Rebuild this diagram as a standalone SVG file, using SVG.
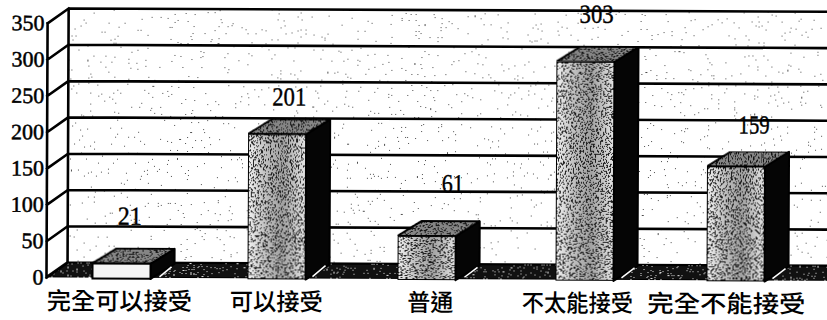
<svg xmlns="http://www.w3.org/2000/svg" width="827" height="320" viewBox="0 0 827 320">
<style>
 .grid{stroke:#000;stroke-width:2.6;fill:none}
 .axis{stroke:#000;stroke-width:2.6;fill:none;stroke-linecap:square}
 .tick{font-family:"Liberation Serif","Times New Roman",serif;font-size:22px;fill:#000;stroke:#000;stroke-width:0.5;text-anchor:end}
 .val{font-family:"Liberation Serif","Times New Roman",serif;font-size:26px;fill:#000;stroke:#000;stroke-width:0.4;text-anchor:middle}
 .cat{font-family:"Noto Sans CJK TC","Noto Sans CJK SC",sans-serif;font-size:24px;font-weight:500;fill:#000;text-anchor:middle}
 .front{fill:url(#gFront);stroke:#000;stroke-width:2;filter:url(#spkDense)}
 .top{fill:#858585;stroke:#000;stroke-width:2;filter:url(#spkDense)}
 .side{fill:#050505;stroke:#000;stroke-width:2;stroke-linejoin:round}
 .wall{fill:#fff;filter:url(#spkLight)}
 .floor{fill:#111;stroke:#000;stroke-width:2;filter:url(#spkWhite)}
 .hl{stroke:#fff;stroke-width:1.5;fill:none}
</style>
<defs>
 <linearGradient id="gFront" x1="0" y1="0" x2="1" y2="0">
  <stop offset="0" stop-color="#f2f2f2"/>
  <stop offset="0.3" stop-color="#c0c0c0"/>
  <stop offset="0.6" stop-color="#a0a0a0"/>
  <stop offset="1" stop-color="#e6e6e6"/>
 </linearGradient>
 <filter id="spkLight" x="0" y="0" width="1" height="1" color-interpolation-filters="sRGB">
  <feTurbulence type="fractalNoise" baseFrequency="0.7" numOctaves="2" seed="4" result="n"/>
  <feColorMatrix in="n" type="matrix" values="0 0 0 0 0  0 0 0 0 0  0 0 0 0 0  4 0 0 0 -2.55" result="a"/>
  <feComponentTransfer in="a" result="d"><feFuncA type="discrete" tableValues="0 0.7"/></feComponentTransfer>
  <feComposite in="d" in2="SourceAlpha" operator="in" result="dd"/>
  <feMerge><feMergeNode in="SourceGraphic"/><feMergeNode in="dd"/></feMerge>
 </filter>
 <filter id="spkDense" x="0" y="0" width="1" height="1" color-interpolation-filters="sRGB">
  <feTurbulence type="fractalNoise" baseFrequency="0.6" numOctaves="2" seed="9" result="n"/>
  <feColorMatrix in="n" type="matrix" values="0 0 0 0 0  0 0 0 0 0  0 0 0 0 0  4 0 0 0 -1.8" result="a"/>
  <feComponentTransfer in="a" result="d"><feFuncA type="discrete" tableValues="0 0.85"/></feComponentTransfer>
  <feComposite in="d" in2="SourceAlpha" operator="in" result="dd"/>
  <feMerge><feMergeNode in="SourceGraphic"/><feMergeNode in="dd"/></feMerge>
 </filter>
 <filter id="spkWhite" x="0" y="0" width="1" height="1" color-interpolation-filters="sRGB">
  <feTurbulence type="fractalNoise" baseFrequency="0.7" numOctaves="2" seed="2" result="n"/>
  <feColorMatrix in="n" type="matrix" values="0 0 0 0 1  0 0 0 0 1  0 0 0 0 1  4 0 0 0 -2.3" result="a"/>
  <feComponentTransfer in="a" result="d"><feFuncA type="discrete" tableValues="0 0.9"/></feComponentTransfer>
  <feComposite in="d" in2="SourceAlpha" operator="in" result="dd"/>
  <feMerge><feMergeNode in="SourceGraphic"/><feMergeNode in="dd"/></feMerge>
 </filter>
</defs>
<rect width="827" height="320" fill="#fff"/>
<g transform="rotate(0.25 413 160)">
 <g id="backwall">
  <rect class="wall" x="68" y="10" width="770" height="254"/>
  <path class="grid" d="M68 10H840M68 46.3H840M68 82.6H840M68 118.9H840M68 155.2H840M68 191.5H840M68 227.8H840M68 264.1H840M68 10V264"/>
 </g>
 <g id="floor">
  <polygon class="floor" points="47,279 840,279 840,264 68,264"/>
 </g>
 <g id="axis">
  <path class="axis" d="M47 25V279M47 25L68 10M47 61.3L68 46.3M47 97.6L68 82.6M47 133.9L68 118.9M47 170.2L68 155.2M47 206.5L68 191.5M47 242.8L68 227.8M47 279L68 264"/>
  <text class="tick" x="44" y="32">350</text>
  <text class="tick" x="44" y="68.3">300</text>
  <text class="tick" x="44" y="104.6">250</text>
  <text class="tick" x="44" y="140.9">200</text>
  <text class="tick" x="44" y="177.2">150</text>
  <text class="tick" x="44" y="213.5">100</text>
  <text class="tick" x="44" y="249.8">50</text>
  <text class="tick" x="44" y="286.1">0</text>
 </g>
 <g id="bar1">
  <polygon class="side" points="151,264.8 175,249.8 175,265 151,280"/>
  <polygon class="top" points="93,264.8 117,249.8 175,249.8 151,264.8"/>
  <rect x="93" y="264.8" width="58" height="15.2" fill="#f4f4f4" stroke="#000" stroke-width="2"/>
  <path class="hl" d="M160 278L172 268"/>
  <text class="val" x="130" y="226" textLength="24" lengthAdjust="spacingAndGlyphs">21</text>
 </g>
 <g id="bar2">
  <polygon class="side" points="306,134.7 330,119.7 330,265 306,280"/>
  <polygon class="top" points="248,134.7 272,119.7 330,119.7 306,134.7"/>
  <rect class="front" x="248" y="134.7" width="58" height="145.3"/>
  <path class="hl" d="M313 277L326 266"/>
  <text class="val" x="289" y="106" textLength="34" lengthAdjust="spacingAndGlyphs">201</text>
 </g>
 <g id="bar3">
  <polygon class="side" points="456,235.9 480,220.9 480,265 456,280"/>
  <polygon class="top" points="398,235.9 422,220.9 480,220.9 456,235.9"/>
  <rect class="front" x="398" y="235.9" width="58" height="44.1"/>
  <path class="hl" d="M465 277L478 267"/>
  <text class="val" x="453" y="192" textLength="22" lengthAdjust="spacingAndGlyphs">61</text>
 </g>
 <g id="bar4">
  <polygon class="side" points="614,61 638,46 638,265 614,280"/>
  <polygon class="top" points="556,61 580,46 638,46 614,61"/>
  <rect class="front" x="556" y="61" width="58" height="219"/>
  <path class="hl" d="M622 277L635 267"/>
  <text class="val" x="596" y="22" textLength="34" lengthAdjust="spacingAndGlyphs">303</text>
 </g>
 <g id="bar5">
  <polygon class="side" points="765,165.1 789,150.1 789,265 765,280"/>
  <polygon class="top" points="707,165.1 731,150.1 789,150.1 765,165.1"/>
  <rect class="front" x="707" y="165.1" width="58" height="114.9"/>
  <path class="hl" d="M773 277L786 267"/>
  <text class="val" x="754" y="132" textLength="31" lengthAdjust="spacingAndGlyphs">159</text>
 </g>
 <g id="connectors"></g>
 <g id="categories">
  <text class="cat" x="120" y="311" textLength="145" lengthAdjust="spacingAndGlyphs">完全可以接受</text>
  <text class="cat" x="277" y="311" textLength="93" lengthAdjust="spacingAndGlyphs">可以接受</text>
  <text class="cat" x="431" y="311" textLength="46" lengthAdjust="spacingAndGlyphs">普通</text>
  <text class="cat" x="578" y="311" textLength="111" lengthAdjust="spacingAndGlyphs">不太能接受</text>
  <text class="cat" x="727" y="311" textLength="158" lengthAdjust="spacingAndGlyphs">完全不能接受</text>
 </g>
</g>
</svg>
